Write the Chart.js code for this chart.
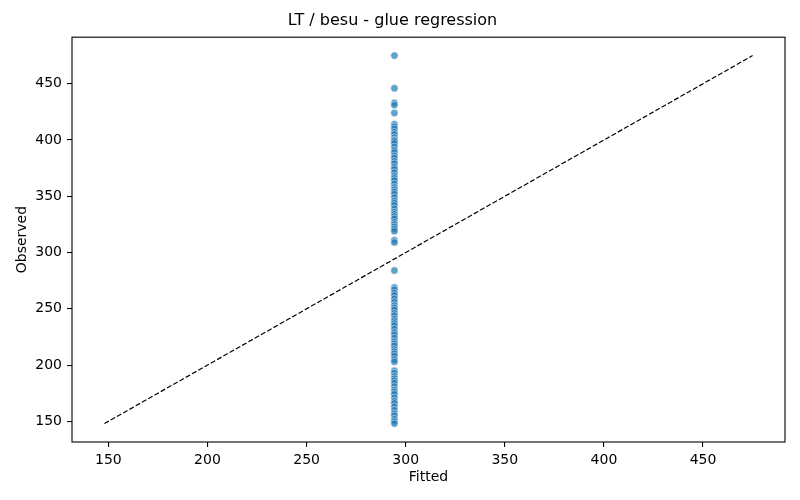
<!DOCTYPE html>
<html>
<head>
<meta charset="utf-8">
<title>LT / besu - glue regression</title>
<script src="https://cdn.jsdelivr.net/npm/chart.js@4.4.1/dist/chart.umd.min.js"></script>
<style>
  html, body { margin: 0; padding: 0; background: #fff; }
</style>
</head>
<body>
<canvas id="regressionChart" width="800" height="500"></canvas>
<script>
const observed = [
    475, 446, 433, 431, 424, 414, 412, 410, 407, 405, 402, 400, 399, 397, 394, 391,
    389, 386, 384, 381, 379, 376, 374, 371, 368, 366, 364, 361, 358, 356, 354, 352,
    349, 346, 344, 342, 339, 336, 334, 332, 330, 327, 325, 323, 321, 319, 311, 309,
    284, 269, 267, 264, 262, 259, 256, 253, 251, 249, 246, 244, 241, 239, 237, 235,
    232, 229, 227, 224, 221, 219, 217, 214, 212, 210, 208, 205, 203, 195, 193, 190,
    188, 186, 184, 181, 178, 176, 174, 171, 168, 166, 163, 160, 157, 155, 152, 150, 148
];
const fitted = 294.3;
const diagonal = [148, 475];
const tickValues = [150, 200, 250, 300, 350, 400, 450];
const axisRange = [131.65, 491.35];

const fontFamily = "'DejaVu Sans', sans-serif";

const framePlugin = {
    id: 'frame',
    afterDraw(chart) {
        const { ctx, chartArea } = chart;
        ctx.save();
        ctx.strokeStyle = '#000';
        ctx.lineWidth = 1.1;
        ctx.strokeRect(chartArea.left, chartArea.top,
            chartArea.right - chartArea.left, chartArea.bottom - chartArea.top);
        ctx.restore();
    }
};

function axisOptions(label, isX) {
    return {
        type: 'linear',
        min: axisRange[0],
        max: axisRange[1],
        afterBuildTicks: (scale) => {
            scale.ticks = tickValues.map(v => ({ value: v }));
        },
        afterFit: (scale) => {
            if (isX) scale.height = 58;
            else scale.width = 72;
        },
        grid: {
            display: true,
            drawOnChartArea: false,
            drawTicks: true,
            tickLength: 5,
            color: '#000',
            lineWidth: 1.1
        },
        border: { display: false },
        ticks: {
            color: '#000',
            padding: 5,
            font: { family: fontFamily, size: 14 },
            maxRotation: 0
        },
        title: {
            display: true,
            text: label,
            color: '#000',
            font: { family: fontFamily, size: 14 },
            padding: isX ? { top: 4, bottom: 14 } : { top: 14, bottom: 0 }
        }
    };
}

const ctx = document.getElementById('regressionChart').getContext('2d');
new Chart(ctx, {
    type: 'scatter',
    data: {
        datasets: [
            {
                type: 'line',
                data: diagonal.map(v => ({ x: v, y: v })),
                borderColor: '#000',
                borderWidth: 1.2,
                borderDash: [5, 2.2],
                pointRadius: 0,
                fill: false
            },
            {
                data: observed.map(v => ({ x: fitted, y: v })),
                backgroundColor: 'rgba(31, 119, 180, 0.7)',
                borderColor: 'rgba(255, 255, 255, 0.7)',
                borderWidth: 0.7,
                pointRadius: 3.7
            }
        ]
    },
    options: {
        responsive: false,
        devicePixelRatio: 1,
        animation: false,
        layout: { padding: { left: 0, right: 15, top: 0, bottom: 0 } },
        plugins: {
            legend: { display: false },
            tooltip: { enabled: false },
            title: {
                display: true,
                text: 'LT / besu - glue regression',
                color: '#000',
                font: { family: fontFamily, size: 16, weight: 'normal' },
                padding: { top: 11, bottom: 7 }
            }
        },
        scales: {
            x: axisOptions('Fitted', true),
            y: axisOptions('Observed', false)
        }
    },
    plugins: [framePlugin]
});
</script>
</body>
</html>
